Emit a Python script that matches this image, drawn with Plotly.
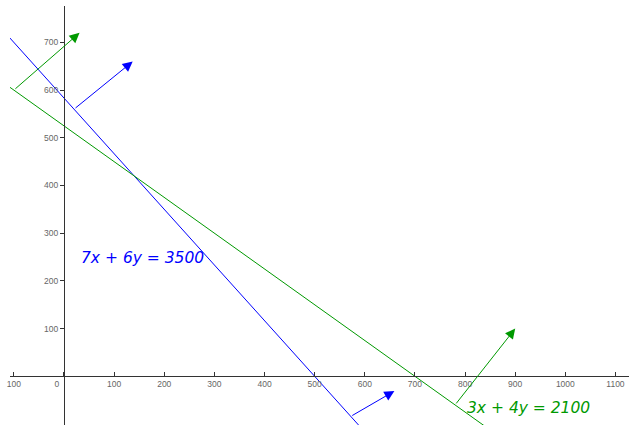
import plotly.graph_objects as go

# Lines: a*x + b*y = c
blue_eq = (7, 6, 3500)
green_eq = (3, 4, 2100)
line_x = [-120, 1200]

# Normal-vector arrows (start, end)
blue_arrows = [((20, 560), (137, 660)), ((572, -84), (659, -31))]
green_arrows = [((-100, 600), (31, 720)), ((780, -60), (900, 100))]

x_ticks = [-100, 0, 100, 200, 300, 400, 500, 600, 700, 800, 900, 1000, 1100]
x_ticktext = ["100", "0\u00a0\u00a0\u00a0\u00a0\u00a0\u00a0", "100", "200", "300", "400", "500", "600", "700", "800", "900", "1000", "1100"]
y_ticks = [100, 200, 300, 400, 500, 600, 700]

BLUE = "rgb(0,0,255)"
GREEN = "rgb(0,153,0)"

x_range = [-107.7, 1127]
y_range = [-102.1, 776.3]

def line_y(eq, xs):
    a, b, c = eq
    return [(c - a * x) / b for x in xs]

fig = go.Figure()
fig.add_trace(go.Scatter(x=line_x, y=line_y(blue_eq, line_x), mode="lines",
                         line=dict(color=BLUE, width=1), hoverinfo="skip"))
fig.add_trace(go.Scatter(x=line_x, y=line_y(green_eq, line_x), mode="lines",
                         line=dict(color=GREEN, width=1), hoverinfo="skip"))

annotations = []
for arrows, col in ((blue_arrows, BLUE), (green_arrows, GREEN)):
    for (x0, y0), (x1, y1) in arrows:
        annotations.append(dict(x=x1, y=y1, ax=x0, ay=y0, xref="x", yref="y",
                                axref="x", ayref="y", text="", showarrow=True,
                                arrowhead=2, arrowsize=2.0, arrowwidth=1.0,
                                arrowcolor=col))

annotations.append(dict(x=157, y=249, xref="x", yref="y", text="<i>7x + 6y = 3500</i>",
                        showarrow=False, font=dict(family="DejaVu Sans", size=15.5, color=BLUE)))
annotations.append(dict(x=926, y=-67, xref="x", yref="y", text="<i>3x + 4y = 2100</i>",
                        showarrow=False, font=dict(family="DejaVu Sans", size=15.5, color=GREEN)))

px0 = (0 - y_range[0]) / (y_range[1] - y_range[0])
py0 = (0 - x_range[0]) / (x_range[1] - x_range[0])

fig.update_layout(
    width=629, height=425,
    margin=dict(l=10, r=0, t=6, b=0, autoexpand=False),
    paper_bgcolor="white", plot_bgcolor="white",
    showlegend=False,
    annotations=annotations,
    xaxis=dict(range=x_range, showgrid=False, zeroline=False, automargin=False,
               anchor="free", position=px0, showline=True, linecolor="#333333", linewidth=1,
               tickvals=x_ticks, ticktext=x_ticktext, ticks="inside", ticklen=4,
               tickcolor="#333333", tickfont=dict(family="Liberation Sans", size=8.5, color="#666666")),
    yaxis=dict(range=y_range, showgrid=False, zeroline=False, automargin=False,
               anchor="free", position=py0, showline=True, linecolor="#333333", linewidth=1,
               tickvals=y_ticks, ticks="outside", ticklen=4,
               tickcolor="#333333", tickfont=dict(family="Liberation Sans", size=8.5, color="#666666")),
)

fig.write_html(
    "out.html",
    config={"displayModeBar": False},
    post_script="document.body.style.margin='0';document.body.style.padding='0';"
                "document.body.style.overflow='hidden';",
)
